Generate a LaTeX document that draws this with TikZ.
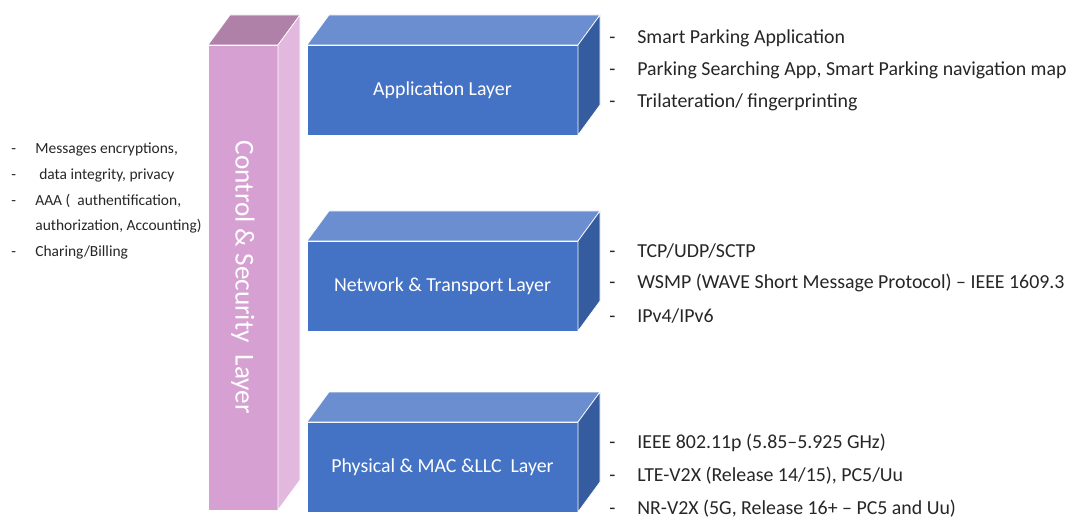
\documentclass[tikz,border=0pt]{standalone}
\usepackage{fontspec}
\setmainfont{Carlito}
\usetikzlibrary{positioning}
\definecolor{layerblue}{RGB}{68,114,196}
\definecolor{layerbluetop}{RGB}{106,142,207}
\definecolor{layerblueside}{RGB}{54,92,160}
\definecolor{secpink}{RGB}{214,161,210}
\definecolor{secpinktop}{RGB}{176,129,168}
\definecolor{secpinkside}{RGB}{226,184,222}
\newcommand{\itemdash}[1]{\makebox[#1][l]{-}}

\begin{document}
\begin{tikzpicture}[
  layer/.style={fill=layerblue, draw=white, thin, minimum width=5.42cm, minimum height=1.8cm,
    inner sep=0pt, outer sep=0pt, text=white, font=\fontsize{11.3}{13}\selectfont},
  topface/.style={fill=layerbluetop, draw=white, thin},
  sideface/.style={fill=layerblueside, draw=white, thin},
  item/.style={anchor=west, inner sep=0pt, text=black!85, font=\fontsize{11.3}{13}\selectfont},
  smallitem/.style={anchor=west, inner sep=0pt, text=black!85, font=\fontsize{8.8}{10}\selectfont}
]
  \useasboundingbox (0,0) rectangle (21.34,-10.4);

  % Control & Security column
  \node[fill=secpink, draw=white, thin, minimum width=1.4cm, minimum height=9.3cm,
    inner sep=0pt, outer sep=0pt] (sec) at (4.86,-5.55) {};
  \fill[secpinktop, draw=white, thin] (sec.north west) -- ++(0.44,0.6) -- ++(1.4,0) -- (sec.north east) -- cycle;
  \fill[secpinkside, draw=white, thin] (sec.north east) -- ++(0.44,0.6) -- ++(0,-9.3) -- (sec.south east) -- cycle;
  \node[rotate=-90, text=white, font=\fontsize{15.5}{17}\selectfont] (seclab) at (sec.center) {Control \& Security\ \ Layer};

  % Layers
  \node[layer] (app) at (8.85,-1.8) {Application Layer};
  \node[layer] (net) at (8.85,-5.72) {Network \& Transport Layer};
  \node[layer] (phy) at (8.85,-9.34) {Physical \& MAC \&LLC\ \ Layer};
  \foreach \b in {app,net,phy} {
    \fill[topface] (\b.north west) -- ++(0.44,0.6) -- ++(5.42,0) -- (\b.north east) -- cycle;
    \fill[sideface] (\b.north east) -- ++(0.44,0.6) -- ++(0,-1.8) -- (\b.south east) -- cycle;
  }

  % Security items
  \node[smallitem] (s1) at (0.22,-2.98) {\itemdash{0.48cm}Messages encryptions,};
  \node[smallitem] (s2) at (0.22,-3.50) {\itemdash{0.56cm}data integrity, privacy};
  \node[smallitem] (s3) at (0.22,-4.02) {\itemdash{0.48cm}AAA (\ \ authentification,};
  \node[smallitem] (s4) at (0.70,-4.52) {authorization, Accounting)};
  \node[smallitem] (s5) at (0.22,-5.04) {\itemdash{0.48cm}Charing/Billing};

  % Application items
  \node[item] (a1) at (12.18,-0.76) {\itemdash{0.56cm}Smart Parking Application};
  \node[item] (a2) at (12.18,-1.40) {\itemdash{0.56cm}Parking Searching App, Smart Parking navigation map};
  \node[item] (a3) at (12.18,-2.04) {\itemdash{0.56cm}Trilateration/ fingerprinting};

  % Network items
  \node[item] (n1) at (12.18,-5.02) {\itemdash{0.56cm}TCP/UDP/SCTP};
  \node[item] (n2) at (12.18,-5.66) {\itemdash{0.56cm}WSMP (WAVE Short Message Protocol) -- IEEE 1609.3};
  \node[item] (n3) at (12.18,-6.32) {\itemdash{0.56cm}IPv4/IPv6};

  % Physical items
  \node[item] (p1) at (12.18,-8.86) {\itemdash{0.56cm}IEEE 802.11p (5.85--5.925 GHz)};
  \node[item] (p2) at (12.18,-9.52) {\itemdash{0.56cm}LTE-V2X (Release 14/15), PC5/Uu};
  \node[item] (p3) at (12.18,-10.18) {\itemdash{0.56cm}NR-V2X (5G, Release 16+ -- PC5 and Uu)};
\end{tikzpicture}
\end{document}
